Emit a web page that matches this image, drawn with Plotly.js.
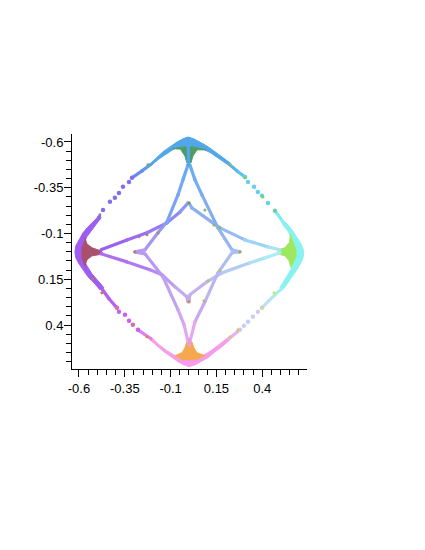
<!DOCTYPE html>
<html><head><meta charset="utf-8">
<script src="https://cdn.plot.ly/plotly-3.0.1.min.js"></script>
<style>html,body{margin:0;padding:0;background:#fff}</style></head>
<body><div id="chart" style="width:425px;height:550px"></div>
<script>
// Tick labels
const tickValues = [-0.6, -0.35, -0.1, 0.15, 0.4];
const tickLabels = ["-0.6", "-0.35", "-0.1", "0.15", "0.4"];

// Filled lobes at the four tips of the figure
const topBandX = [-.213,-.180,-.142,-.104,-.065,-.033,-.005,.027,.060,.098,.136,.180,.224,.213,.164,.120,.076,.033,-.005,-.044,-.082,-.125,-.164,-.202];
const topBandY = [-.480,-.513,-.546,-.573,-.600,-.617,-.627,-.617,-.600,-.578,-.551,-.518,-.486,-.475,-.507,-.540,-.562,-.573,-.578,-.573,-.562,-.535,-.507,-.475];
const topCoreX = [-.093,-.033,.022,.093,.044,.022,.011,-.011,-.022,-.044];
const topCoreY = [-.562,-.573,-.573,-.557,-.557,-.524,-.486,-.486,-.524,-.557];
const rightBandX = [.507,.535,.562,.589,.611,.622,.627,.622,.611,.589,.562,.535,.513,.496,.518,.540,.562,.578,.584,.578,.562,.535,.513,.496];
const rightBandY = [-.180,-.153,-.120,-.082,-.044,-.016,.005,.033,.060,.098,.136,.175,.207,.196,.158,.125,.087,.044,.005,-.033,-.076,-.120,-.147,-.180];
const rightCoreX = [.551,.565,.584,.584,.565,.557,.546,.524,.486,.486,.524,.546];
const rightCoreY = [-.098,-.065,-.011,.022,.065,.087,.049,.022,.011,-.011,-.022,-.049];
const bottomBandX = [-.213,-.175,-.136,-.098,-.060,-.027,0,.033,.065,.104,.142,.180,.224,.213,.164,.120,.076,.033,0,-.038,-.076,-.120,-.164,-.202];
const bottomBandY = [.480,.513,.546,.573,.600,.617,.627,.617,.600,.578,.546,.518,.480,.469,.507,.540,.567,.584,.589,.584,.567,.540,.507,.469];
const bottomCoreX = [-.076,-.038,-.022,-.011,.016,.027,.044,.087,.038,-.038];
const bottomCoreY = [.567,.551,.524,.491,.491,.524,.551,.567,.589,.589];
const leftBandX = [-.496,-.524,-.551,-.578,-.600,-.617,-.622,-.617,-.600,-.578,-.551,-.518,-.486,-.464,-.502,-.529,-.557,-.578,-.584,-.578,-.557,-.529,-.507,-.480];
const leftBandY = [-.191,-.164,-.136,-.104,-.065,-.033,0,.033,.065,.098,.136,.169,.207,.196,.153,.120,.076,.033,0,-.038,-.082,-.120,-.147,-.186];
const leftCoreX = [-.567,-.557,-.529,-.480,-.464,-.529,-.557,-.567,-.584,-.584];
const leftCoreY = [-.076,-.044,-.022,-.005,.011,.022,.044,.076,.033,-.027];

// Outer arc stretches
const outerTLX = [-.207,-.256,-.311];   const outerTLY = [-.478,-.442,-.404];
const outerTRX = [.218,.262,.306];      const outerTRY = [-.480,-.442,-.409];
const outerTR2X = [.469,.502];          const outerTR2Y = [-.224,-.180];
const outerBRX = [.505,.469,.436,.398]; const outerBRY = [.202,.235,.267,.306];
const outerBR2X = [.278,.218];          const outerBR2Y = [.426,.475];
const outerBLX = [-.475,-.436,-.393];   const outerBLY = [.202,.256,.306];
const outerBL2X = [-.278,-.207];        const outerBL2Y = [.426,.475];

// Sparse points on the outer arc
const sparseTLX = [-.311,-.327,-.360,-.382,-.404,-.431,-.469,-.490];
const sparseTLY = [-.404,-.382,-.355,-.322,-.295,-.273,-.229,-.188];
const sparseTRX = [.306,.322,.355,.376,.398,.431,.469];
const sparseTRY = [-.409,-.382,-.355,-.327,-.306,-.267,-.224];
const sparseBRX = [.398,.376,.349,.322,.300,.278];
const sparseBRY = [.306,.327,.355,.382,.404,.426];
const sparseBLX = [-.393,-.382,-.349,-.327,-.306,-.278];
const sparseBLY = [.306,.327,.344,.376,.398,.426];

// Inner branches
const upperLeftX = [-.480,-.338,-.229,-.120,-.049,-.005];
const upperLeftY = [-.011,-.065,-.104,-.158,-.218,-.267];
const downLeftX = [-.005,-.033,-.060,-.120,-.169,-.240,-.295];
const downLeftY = [-.475,-.393,-.311,-.164,-.104,-.011,0];
const downRightX = [.005,.033,.071,.158,.235,.278];
const downRightY = [-.475,-.393,-.311,-.131,-.011,0];
const upperRightX = [0,.016,.169,.306,.431,.496];
const upperRightY = [-.267,-.240,-.131,-.065,-.027,-.011];
const lowerLeftX = [-.480,-.338,-.213,-.147,-.076,-.011,-.005];
const lowerLeftY = [.011,.055,.098,.125,.191,.246,.273];
const upLeftX = [-.295,-.240,-.142,-.060,-.027,-.005];
const upLeftY = [0,.011,.136,.316,.398,.491];
const lowerRightX = [0,.005,.098,.180,.333,.415,.496];
const lowerRightY = [.273,.235,.164,.115,.060,.033,.005];
const upRightX = [.278,.235,.158,.087,.033,.005];
const upRightY = [0,.005,.115,.273,.382,.491];
const topStemX = [-.003,-.003]; const topStemY = [-.573,-.475];
const bottomStemX = [.002,.002]; const bottomStemY = [.480,.510];

// Darker speckles along the curves
const speckX = [.087,.136,.169,-.273,-.229,-.169,.082,.169,.104,-.486,-.224,.224,.306,.404,.469,-.524,-.475,-.393,-.306,-.229,.398,.267,.224,.464,0,0,-.295,.278];
const speckY = [-.229,-.147,-.131,-.082,-.093,-.104,.267,.104,.158,-.202,-.475,-.475,-.404,-.300,-.224,.147,.224,.306,.398,.464,.306,.426,.464,.224,-.267,.273,0,0];

// Styles
const speckColors = ["#86b868","#86b868","#86b868","#a87a9a","#a87a9a","#a89088","#c8b070","#b8c070","#b8c070","#a87090","#70a878","#80c060","#70d060","#80d060","#80d060","#c87060","#c87060","#d88060","#e08050","#e08050","#d0e060","#e0c060","#e0c060","#d0e060","#70a040","#c89040","#b08860","#90b050"];

const fills = [
  [topBandX, topBandY, "#52a6ea"], [topCoreX, topCoreY, "#4c9e64"],
  [rightBandX, rightBandY, "#88f2ee"], [rightCoreX, rightCoreY, "#9ee860"],
  [bottomBandX, bottomBandY, "#f59ceb"], [bottomCoreX, bottomCoreY, "#f6a850"],
  [leftBandX, leftBandY, "#9e5cf0"], [leftCoreX, leftCoreY, "#a8506e"]
];
const strokes = [
  [outerTLX, outerTLY, ["#5f9cec","#6a8cee","#7080f0"]],
  [outerTRX, outerTRY, ["#5cb0ee","#5cc0f0","#60d0f0"]],
  [outerTR2X, outerTR2Y, ["#80ecf0","#88f2ee"]],
  [outerBRX, outerBRY, ["#a0f0f0","#b0e8f0","#c0e0f0","#c8d8f0"]],
  [outerBR2X, outerBR2Y, ["#e8b0f0","#f0a8ee"]],
  [outerBLX, outerBLY, ["#b060f0","#b860f0","#c060f0"]],
  [outerBL2X, outerBL2Y, ["#dc80f0","#ea90ee"]],
  [upperLeftX, upperLeftY, ["#9a62f0","#9a6cf2","#9a78f4","#8e88f4","#8a98f2","#8a9cf0"]],
  [downLeftX, downLeftY, ["#6aaaf0","#74a8f2","#78a4f2","#8a9cf4","#a496f2","#b49cee","#b49cee"]],
  [downRightX, downRightY, ["#6cacf0","#74acf2","#82acf2","#94b4f2","#a6bcf4","#a6bcf4"]],
  [upperRightX, upperRightY, ["#8aaaf2","#8eaef2","#94bcf4","#a0d2f4","#aae2f4","#aeeef4"]],
  [lowerLeftX, lowerLeftY, ["#ac70f0","#b078f2","#b688f2","#bc9cf2","#c4a8f0","#c4a8ec","#c4a8ec"]],
  [upLeftX, upLeftY, ["#b898f0","#b898f0","#c0a2f0","#d4a4f0","#e4a8ee","#eca8ea"]],
  [lowerRightX, lowerRightY, ["#c4aeee","#c4b2f0","#bcbef2","#b4ccf4","#ace2f4","#aceef4","#acf2f4"]],
  [upRightX, upRightY, ["#acbcf4","#acbcf4","#b8b6f2","#c8a8f0","#e4a8ee","#eca8ea"]],
  [topStemX, topStemY, ["#52a6ee","#58a4ee"]],
  [bottomStemX, bottomStemY, ["#ea9ce6","#f09ce6"]]
];
const dotted = [
  [sparseTLX, sparseTLY, "#7f70f0"], [sparseTRX, sparseTRY, "#66cef0"],
  [sparseBRX, sparseBRY, "#c8d0f0"], [sparseBLX, sparseBLY, "#c860f0"]
];

const traces = [];
const base = {type:"scatter", showlegend:false, hoverinfo:"skip"};
fills.forEach(([x,y,c]) => traces.push({...base, x, y, mode:"lines", fill:"toself", fillcolor:c, line:{color:c,width:1}}));
strokes.forEach(([x,y,c]) => {
  for (let i=0;i<x.length-1;i++) traces.push({...base, x:[x[i],x[i+1]], y:[y[i],y[i+1]], mode:"lines+markers",
    line:{color:c[i],width:3.2}, marker:{color:c[i],size:3.2}});
});
dotted.forEach(([x,y,c]) => traces.push({...base, x, y, mode:"markers", marker:{color:c,size:4.5}}));
traces.push({...base, x:speckX, y:speckY, mode:"markers", marker:{color:speckColors,size:3}});

const axis = {
  tickmode:"array", tickvals:tickValues, ticktext:tickLabels, ticks:"outside", ticklen:7, tickwidth:1, tickcolor:"#000",
  showline:true, linecolor:"#000", linewidth:1, showgrid:false, zeroline:false,
  tickfont:{family:"Liberation Sans, Arial, sans-serif", size:13, color:"#000"},
  minor:{tick0:-0.6, dtick:0.05, ticks:"outside", ticklen:5, tickwidth:1, tickcolor:"#000", showgrid:false}
};
Plotly.newPlot("chart", traces, {
  width:425, height:550, paper_bgcolor:"#fff", plot_bgcolor:"#fff", showlegend:false,
  margin:{l:72, t:134, r:118, b:181, pad:0},
  xaxis:{...axis, range:[-0.638,0.644]},
  yaxis:{...axis, range:[0.64,-0.6436], ticklabelstandoff:-2}
}, {displayModeBar:false, staticPlot:true});
</script></body></html>
